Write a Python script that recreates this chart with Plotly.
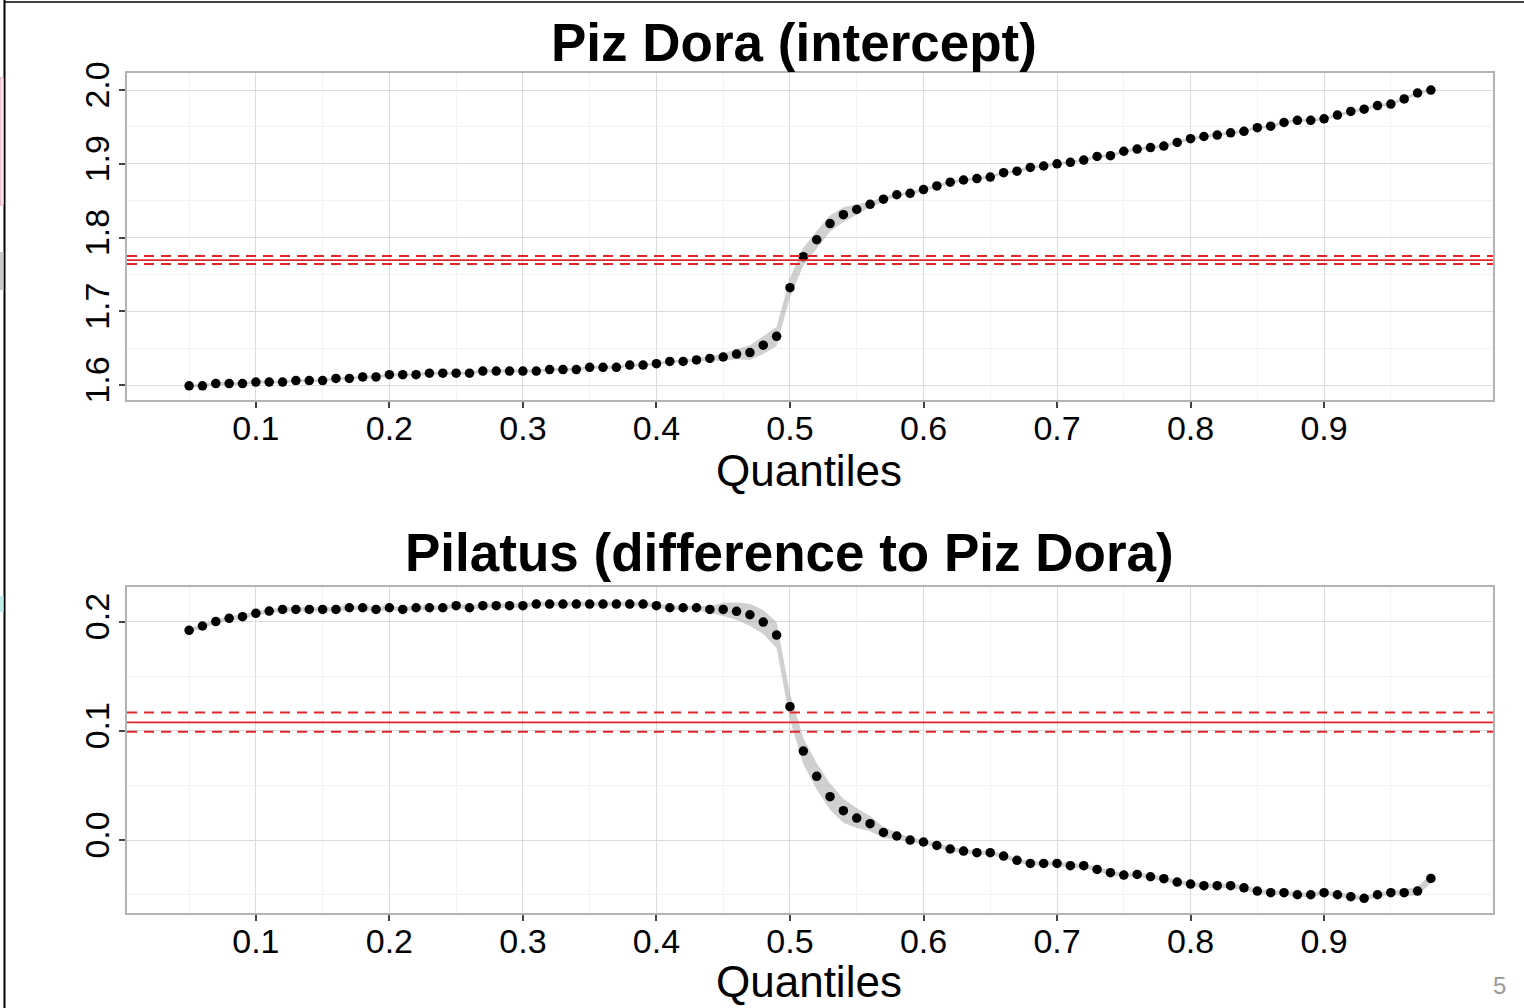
import plotly.graph_objects as go

W, H = 1524, 1008

quantiles = [0.05, 0.06, 0.07, 0.08, 0.09, 0.10, 0.11, 0.12, 0.13, 0.14,
             0.15, 0.16, 0.17, 0.18, 0.19, 0.20, 0.21, 0.22, 0.23, 0.24,
             0.25, 0.26, 0.27, 0.28, 0.29, 0.30, 0.31, 0.32, 0.33, 0.34,
             0.35, 0.36, 0.37, 0.38, 0.39, 0.40, 0.41, 0.42, 0.43, 0.44,
             0.45, 0.46, 0.47, 0.48, 0.49, 0.50, 0.51, 0.52, 0.53, 0.54,
             0.55, 0.56, 0.57, 0.58, 0.59, 0.60, 0.61, 0.62, 0.63, 0.64,
             0.65, 0.66, 0.67, 0.68, 0.69, 0.70, 0.71, 0.72, 0.73, 0.74,
             0.75, 0.76, 0.77, 0.78, 0.79, 0.80, 0.81, 0.82, 0.83, 0.84,
             0.85, 0.86, 0.87, 0.88, 0.89, 0.90, 0.91, 0.92, 0.93, 0.94,
             0.95, 0.96, 0.97, 0.98]

piz_dora = [1.599, 1.599, 1.602, 1.602, 1.602, 1.604, 1.604, 1.604, 1.606, 1.606,
            1.606, 1.609, 1.609, 1.611, 1.611, 1.614, 1.614, 1.614, 1.616, 1.616,
            1.616, 1.616, 1.619, 1.619, 1.619, 1.619, 1.619, 1.621, 1.621, 1.621,
            1.624, 1.624, 1.624, 1.627, 1.627, 1.629, 1.632, 1.632, 1.634, 1.636,
            1.638, 1.642, 1.644, 1.654, 1.666, 1.732, 1.774, 1.797, 1.819, 1.831,
            1.838, 1.845, 1.852, 1.858, 1.860, 1.865, 1.870, 1.875, 1.878, 1.880,
            1.882, 1.888, 1.890, 1.895, 1.897, 1.900, 1.902, 1.905, 1.910, 1.911,
            1.917, 1.920, 1.922, 1.924, 1.929, 1.934, 1.937, 1.939, 1.942, 1.944,
            1.949, 1.951, 1.956, 1.959, 1.959, 1.961, 1.966, 1.971, 1.974, 1.979,
            1.981, 1.988, 1.996, 2.000]

piz_dora_hw = [0.002, 0.002, 0.002, 0.002, 0.002, 0.002, 0.002, 0.002, 0.002, 0.002,
               0.002, 0.002, 0.002, 0.002, 0.002, 0.002, 0.002, 0.002, 0.002, 0.002,
               0.002, 0.002, 0.002, 0.002, 0.002, 0.002, 0.002, 0.002, 0.002, 0.002,
               0.002, 0.002, 0.002, 0.002, 0.002, 0.002, 0.002, 0.002, 0.002, 0.003,
               0.005, 0.007, 0.010, 0.012, 0.013, 0.013, 0.012, 0.012, 0.011, 0.010,
               0.007, 0.004, 0.003, 0.002, 0.002, 0.002, 0.002, 0.002, 0.002, 0.002,
               0.002, 0.002, 0.002, 0.002, 0.002, 0.002, 0.002, 0.002, 0.002, 0.002,
               0.002, 0.002, 0.002, 0.002, 0.002, 0.002, 0.002, 0.002, 0.002, 0.002,
               0.002, 0.002, 0.002, 0.002, 0.002, 0.002, 0.002, 0.002, 0.002, 0.002,
               0.002, 0.002, 0.002, 0.002]

pilatus = [0.1920, 0.1960, 0.2000, 0.2030, 0.2045, 0.2076, 0.2097, 0.2112, 0.2112, 0.2112,
           0.2112, 0.2112, 0.2127, 0.2127, 0.2112, 0.2127, 0.2112, 0.2127, 0.2127, 0.2127,
           0.2146, 0.2127, 0.2146, 0.2146, 0.2146, 0.2146, 0.2161, 0.2161, 0.2161, 0.2161,
           0.2161, 0.2161, 0.2161, 0.2161, 0.2161, 0.2146, 0.2127, 0.2127, 0.2127, 0.2112,
           0.2112, 0.2094, 0.2063, 0.1996, 0.1877, 0.1221, 0.0815, 0.0583, 0.0397, 0.0269,
           0.0201, 0.0150, 0.0069, 0.0037, 0.0000, -0.0018, -0.0049, -0.0082, -0.0101, -0.0116,
           -0.0116, -0.0147, -0.0186, -0.0214, -0.0214, -0.0214, -0.0235, -0.0235, -0.0269, -0.0299,
           -0.0321, -0.0315, -0.0336, -0.0354, -0.0385, -0.0403, -0.0418, -0.0418, -0.0418, -0.0437,
           -0.0467, -0.0482, -0.0482, -0.0501, -0.0501, -0.0482, -0.0501, -0.0519, -0.0534, -0.0501,
           -0.0482, -0.0482, -0.0467, -0.0351]

pilatus_hw = [0.002, 0.002, 0.002, 0.002, 0.002, 0.002, 0.002, 0.002, 0.002, 0.002,
              0.002, 0.002, 0.002, 0.002, 0.002, 0.002, 0.002, 0.002, 0.002, 0.002,
              0.002, 0.002, 0.002, 0.002, 0.002, 0.002, 0.002, 0.002, 0.002, 0.002,
              0.002, 0.002, 0.002, 0.002, 0.002, 0.002, 0.002, 0.002, 0.002, 0.003,
              0.006, 0.008, 0.010, 0.011, 0.012, 0.012, 0.012, 0.012, 0.012, 0.011,
              0.009, 0.007, 0.005, 0.003, 0.002, 0.002, 0.002, 0.002, 0.002, 0.002,
              0.002, 0.002, 0.002, 0.002, 0.002, 0.002, 0.002, 0.002, 0.002, 0.002,
              0.002, 0.002, 0.002, 0.002, 0.002, 0.002, 0.002, 0.002, 0.002, 0.002,
              0.002, 0.002, 0.002, 0.002, 0.002, 0.002, 0.002, 0.002, 0.002, 0.002,
              0.002, 0.003, 0.004, 0.004]

# reference lines: estimate and its confidence bounds
piz_dora_ref = 1.7695
piz_dora_ref_ci = [1.7641, 1.7749]
pilatus_ref = 0.1078
pilatus_ref_ci = [0.0992, 0.1169]

x_ticks = [0.1, 0.2, 0.3, 0.4, 0.5, 0.6, 0.7, 0.8, 0.9]
x_ticktext = ["0.1", "0.2", "0.3", "0.4", "0.5", "0.6", "0.7", "0.8", "0.9"]
y1_ticks = [1.6, 1.7, 1.8, 1.9, 2.0]
y1_ticktext = ["1.6", "1.7", "1.8", "1.9", "2.0"]
y2_ticks = [0.0, 0.1, 0.2]
y2_ticktext = ["0.0", "0.1", "0.2"]

title1 = "Piz Dora (intercept)"
title2 = "Pilatus (difference to Piz Dora)"
x_title = "Quantiles"

FONT = "Liberation Sans, Arial, Helvetica, sans-serif"
RIBBON = "rgba(170,170,170,0.55)"
RED = "#E3262B"

fig = go.Figure()


def add_panel(vals, hw, xa, ya):
    lower = [v - h for v, h in zip(vals, hw)]
    upper = [v + h for v, h in zip(vals, hw)]
    fig.add_trace(go.Scatter(
        x=quantiles + quantiles[::-1], y=upper + lower[::-1],
        fill="toself", fillcolor=RIBBON, line=dict(width=0),
        mode="lines", hoverinfo="skip", showlegend=False,
        xaxis=xa, yaxis=ya))
    fig.add_trace(go.Scatter(
        x=quantiles, y=vals, mode="markers",
        marker=dict(color="black", size=9.5, line=dict(width=0)),
        showlegend=False, xaxis=xa, yaxis=ya))


add_panel(piz_dora, piz_dora_hw, "x", "y")
add_panel(pilatus, pilatus_hw, "x2", "y2")

# red reference lines
for ref, ci, xa, ya in [(piz_dora_ref, piz_dora_ref_ci, "x", "y"),
                        (pilatus_ref, pilatus_ref_ci, "x2", "y2")]:
    fig.add_shape(type="line", xref=xa + " domain", yref=ya, x0=0, x1=1,
                  y0=ref, y1=ref, line=dict(color=RED, width=1.8))
    for c in ci:
        fig.add_shape(type="line", xref=xa + " domain", yref=ya, x0=0, x1=1,
                      y0=c, y1=c, line=dict(color=RED, width=2, dash="10px,7px"))

xdom = [127 / W, 1493 / W]
y1dom = [1 - 400 / H, 1 - 73 / H]
y2dom = [1 - 913 / H, 1 - 587 / H]

common_x = dict(
    range=[0.0035, 1.0265], tickmode="array", tickvals=x_ticks, ticktext=x_ticktext,
    showgrid=True, gridcolor="#DCDCDC", gridwidth=1,
    minor=dict(tick0=0.05, dtick=0.1, showgrid=True, gridcolor="#F2F2F2", gridwidth=1),
    showline=True, mirror=True, linecolor="#B3B3B3", linewidth=2,
    ticks="outside", ticklen=6, tickwidth=1.5, tickcolor="#444444",
    tickfont=dict(family=FONT, size=34, color="black"),
    ticklabelstandoff=-9,
    zeroline=False, domain=xdom, automargin=False,
)
common_y = dict(
    tickmode="array", showgrid=True, gridcolor="#DCDCDC", gridwidth=1,
    showline=True, mirror=True, linecolor="#B3B3B3", linewidth=2,
    ticks="outside", ticklen=6, tickwidth=1.5, tickcolor="#444444",
    tickfont=dict(family=FONT, size=34, color="black"), tickangle=-90,
    ticklabelstandoff=-4,
    zeroline=False, automargin=False,
)

fig.update_layout(
    width=W, height=H, autosize=False,
    margin=dict(l=0, r=0, t=0, b=0, autoexpand=False),
    paper_bgcolor="white", plot_bgcolor="white",
    showlegend=False,
    xaxis=dict(common_x, anchor="y"),
    xaxis2=dict(common_x, anchor="y2"),
    yaxis=dict(common_y, domain=y1dom, anchor="x", range=[1.5797, 2.0231],
               tickvals=y1_ticks, ticktext=y1_ticktext,
               minor=dict(tick0=1.65, dtick=0.1, showgrid=True, gridcolor="#F2F2F2")),
    yaxis2=dict(common_y, domain=y2dom, anchor="x2", range=[-0.0668, 0.2317],
                tickvals=y2_ticks, ticktext=y2_ticktext,
                minor=dict(tick0=0.05, dtick=0.1, showgrid=True, gridcolor="#F2F2F2")),
)


def ann(text, px, py, size, bold=False, color="black"):
    fig.add_annotation(
        text=f"<b>{text}</b>" if bold else text,
        x=px / W, y=1 - py / H, xref="paper", yref="paper",
        xanchor="center", yanchor="middle", showarrow=False,
        font=dict(family=FONT, size=size, color=color))


ann(title1, 794, 43, 53, bold=True)
ann(title2, 789, 552, 53, bold=True)
ann(x_title, 809, 470, 44)
ann(x_title, 809, 981, 44)
ann("5", 1499, 985, 24, color="#9A9A9A")

# slide frame remnants
fig.add_shape(type="line", xref="paper", yref="paper",
              x0=4.5 / W, x1=4.5 / W, y0=0, y1=1, line=dict(color="black", width=2))
fig.add_shape(type="line", xref="paper", yref="paper",
              x0=4.5 / W, x1=1, y0=1 - 2 / H, y1=1 - 2 / H, line=dict(color="black", width=1.5))
fig.add_shape(type="rect", xref="paper", yref="paper",
              x0=0, x1=3.5 / W, y0=1 - 205 / H, y1=1 - 78 / H,
              fillcolor="#FBE4EA", line=dict(color="#E9A3B4", width=1))
fig.add_shape(type="rect", xref="paper", yref="paper",
              x0=0, x1=3.5 / W, y0=1 - 290 / H, y1=1 - 252 / H,
              fillcolor="#C9C9C9", line=dict(width=0))
fig.add_shape(type="rect", xref="paper", yref="paper",
              x0=0, x1=3.5 / W, y0=1 - 612 / H, y1=1 - 596 / H,
              fillcolor="#BFEDEA", line=dict(width=0))

fig.write_html("out.html")
